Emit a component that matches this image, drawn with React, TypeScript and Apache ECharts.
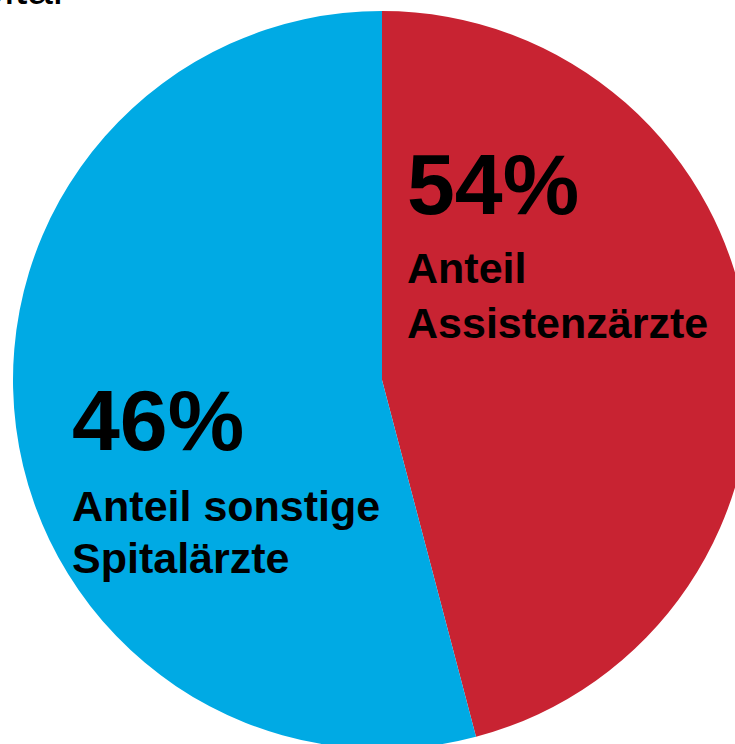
import React, { useEffect, useRef } from "react";
import * as echarts from "echarts";

// Slices as drawn in the picture (share of the circle), clockwise from 12 o'clock
const categories = ["Anteil Assistenzärzte", "Anteil sonstige Spitalärzte"];
const sliceShares = [45.9, 54.1];
const percentLabels = ["54%", "46%"];
const labelLines = [["Anteil", "Assistenzärzte"], ["Anteil sonstige", "Spitalärzte"]];
const colors = ["#C82332", "#00AAE4"];
const titleFragment = "Spital";

export default function App() {
  const ref = useRef<HTMLDivElement>(null);
  useEffect(() => {
    if (!ref.current) return;
    const chart = echarts.init(ref.current, undefined, { renderer: "svg" });
    const font = "'Liberation Sans', Arial, Helvetica, sans-serif";
    const labelPos = [
      { x: 407, pctY: 184, lineY: [268, 323] },
      { x: 72, pctY: 420, lineY: [506, 558] },
    ];
    const graphics: any[] = [];
    percentLabels.forEach((p, i) => {
      graphics.push({
        type: "text",
        z: 100,
        x: labelPos[i].x,
        y: labelPos[i].pctY,
        style: {
          text: p,
          fill: "#000",
          font: `bold 86px ${font}`,
          align: "left",
          verticalAlign: "middle",
        },
      });
      labelLines[i].forEach((t, j) => {
        graphics.push({
          type: "text",
          z: 100,
          x: labelPos[i].x,
          y: labelPos[i].lineY[j],
          style: {
            text: t,
            fill: "#000",
            font: `bold 43px ${font}`,
            align: "left",
            verticalAlign: "middle",
          },
        });
      });
    });
    graphics.push({
      type: "text",
      z: 100,
      x: 63,
      y: 11,
      style: {
        text: titleFragment,
        fill: "#000",
        font: `46px ${font}`,
        align: "right",
        verticalAlign: "bottom",
      },
    });
    chart.setOption({
      animation: false,
      backgroundColor: "#fff",
      series: [
        {
          type: "pie",
          center: [382, 380],
          radius: 369,
          startAngle: 90,
          clockwise: true,
          label: { show: false },
          labelLine: { show: false },
          itemStyle: { borderWidth: 0 },
          data: categories.map((c, i) => ({
            name: c,
            value: sliceShares[i],
            itemStyle: { color: colors[i] },
          })),
        },
      ],
      graphic: graphics,
    });
    return () => chart.dispose();
  }, []);
  return (
    <div
      ref={ref}
      style={{ position: "fixed", left: 0, top: 0, width: 735, height: 744 }}
    />
  );
}
